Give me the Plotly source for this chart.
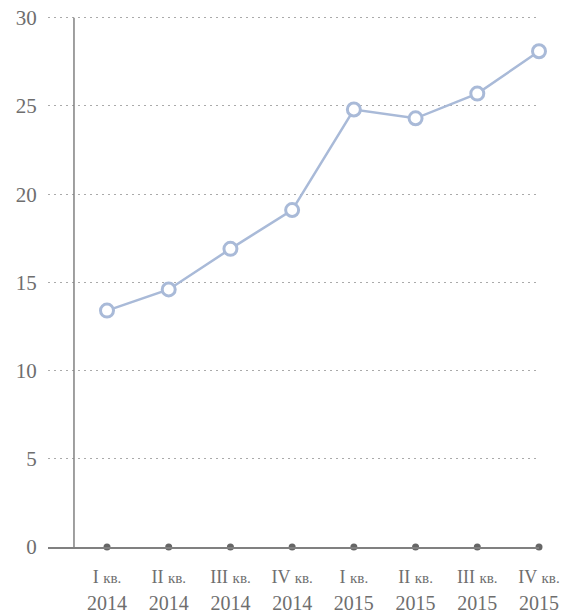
import plotly.graph_objects as go

quarters = ["I", "II", "III", "IV", "I", "II", "III", "IV"]
years = ["2014", "2014", "2014", "2014", "2015", "2015", "2015", "2015"]
values = [13.4, 14.6, 16.9, 19.1, 24.8, 24.3, 25.7, 28.1]
y_ticks = [0, 5, 10, 15, 20, 25, 30]

x_idx = list(range(len(values)))
tick_text = [
    f"<span style='font-size:18px'>{q} </span><span style='font-size:15px'>кв.</span><br>"
    f"<span style='font-size:20px'>{y}</span>"
    for q, y in zip(quarters, years)
]

LINE_C = "#a9bad8"
AX_C = "#808080"
TXT_C = "#6e6e6e"
FONT = "Liberation Serif"

fig = go.Figure()
fig.add_trace(go.Scatter(
    x=x_idx, y=[0] * len(values), mode="markers",
    marker=dict(size=7, color="#666666"), cliponaxis=False,
    hoverinfo="skip", showlegend=False,
))
fig.add_trace(go.Scatter(
    x=x_idx, y=values, mode="lines+markers",
    line=dict(color=LINE_C, width=2.5),
    marker=dict(size=13, color="white", line=dict(color=LINE_C, width=3)),
    cliponaxis=False, showlegend=False,
))

# vertical axis line inside the plot area
fig.add_shape(type="line", xref="x", yref="y", x0=-0.535, x1=-0.535, y0=0, y1=30,
              line=dict(color=AX_C, width=1.5), layer="above")

# page body has an 8px default margin, so the figure is offset by 8px
fig.update_layout(
    width=560, height=605,
    margin=dict(l=40, r=29, t=8, b=66, autoexpand=False),
    paper_bgcolor="white", plot_bgcolor="white",
    font=dict(family=FONT, color=TXT_C),
    xaxis=dict(
        range=[-0.956, 7], tickmode="array", tickvals=x_idx, ticktext=tick_text,
        tickfont=dict(family=FONT, size=21, color=TXT_C), showgrid=False, zeroline=False,
        showline=True, linecolor=AX_C, linewidth=1.5, automargin=False,
        ticks="outside", ticklen=9, tickcolor="rgba(0,0,0,0)", ticklabeloverflow="allow",
    ),
    yaxis=dict(
        range=[0, 30.1], tickmode="array", tickvals=y_ticks, automargin=False,
        tickfont=dict(family=FONT, size=21, color=TXT_C), showgrid=True, gridcolor="#aaaaaa",
        gridwidth=1, griddash="2px,4px", zeroline=False, showline=False,
        ticks="outside", ticklen=6, tickcolor="rgba(0,0,0,0)", ticklabeloverflow="allow",
    ),
)

fig.write_html("out.html")
